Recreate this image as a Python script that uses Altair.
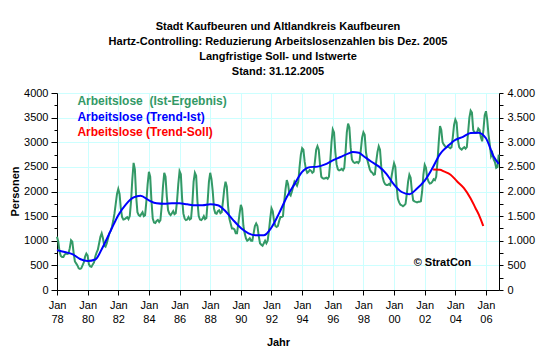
import altair as alt
import pandas as pd

FONT = "Liberation Sans"

# ---- Arbeitslose (Ist-Ergebnis), monthly values Jan..Dec per year ----
ist_1978 = [1080, 980, 780, 690, 670, 670, 720, 740, 730, 740, 850, 1010]
ist_1979 = [980, 760, 580, 540, 500, 440, 430, 440, 500, 560, 680, 740]
ist_1980 = [700, 520, 480, 470, 520, 560, 680, 760, 820, 950, 1080, 1150]
ist_1981 = [1050, 900, 880, 950, 1050, 1150, 1200, 1280, 1400, 1550, 1750, 1950]
ist_1982 = [2050, 1950, 1650, 1480, 1430, 1440, 1460, 1480, 1440, 1500, 1800, 2250]
ist_1983 = [2580, 2450, 1900, 1580, 1520, 1500, 1540, 1580, 1500, 1520, 1800, 2150]
ist_1984 = [2400, 2300, 1800, 1450, 1370, 1360, 1400, 1420, 1380, 1420, 1700, 2100]
ist_1985 = [2380, 2300, 1900, 1620, 1550, 1520, 1560, 1600, 1540, 1560, 1800, 2150]
ist_1986 = [2410, 2350, 1850, 1550, 1450, 1420, 1430, 1480, 1430, 1450, 1750, 2200]
ist_1987 = [2380, 2320, 1800, 1500, 1430, 1420, 1450, 1500, 1440, 1460, 1800, 2200]
ist_1988 = [2380, 2250, 2000, 1650, 1560, 1550, 1600, 1620, 1560, 1580, 1800, 2050]
ist_1989 = [2200, 2100, 1700, 1450, 1350, 1250, 1250, 1230, 1150, 1150, 1350, 1550]
ist_1990 = [1730, 1650, 1300, 1150, 1050, 1000, 1020, 1050, 1000, 1000, 1150, 1300]
ist_1991 = [1350, 1300, 1100, 950, 920, 900, 950, 1000, 950, 1000, 1200, 1450]
ist_1992 = [1660, 1600, 1400, 1300, 1280, 1300, 1400, 1480, 1480, 1500, 1800, 2050]
ist_1993 = [2230, 2150, 1950, 1920, 2000, 2100, 2200, 2160, 2120, 2200, 2500, 2750]
ist_1994 = [2880, 2850, 2600, 2450, 2380, 2400, 2440, 2420, 2380, 2400, 2600, 2850]
ist_1995 = [2920, 2850, 2550, 2300, 2270, 2260, 2270, 2280, 2260, 2300, 2600, 3000]
ist_1996 = [3260, 3200, 2800, 2550, 2450, 2430, 2440, 2460, 2430, 2480, 2800, 3200]
ist_1997 = [3380, 3300, 2900, 2650, 2600, 2580, 2590, 2600, 2580, 2620, 2850, 3100]
ist_1998 = [3200, 3150, 2800, 2650, 2550, 2450, 2400, 2380, 2340, 2350, 2600, 2800]
ist_1999 = [2920, 2850, 2500, 2300, 2200, 2150, 2130, 2130, 2150, 2130, 2300, 2450]
ist_2000 = [2575, 2500, 2100, 1850, 1780, 1730, 1720, 1700, 1720, 1750, 1950, 2200]
ist_2001 = [2340, 2280, 2000, 1820, 1800, 1790, 1780, 1790, 1790, 1800, 2000, 2350]
ist_2002 = [2540, 2480, 2280, 2200, 2160, 2170, 2200, 2250, 2230, 2300, 2600, 3000]
ist_2003 = [3330, 3250, 3000, 2950, 2920, 2900, 2920, 2900, 2880, 2900, 3100, 3350]
ist_2004 = [3460, 3400, 3050, 2900, 2870, 2850, 2880, 2900, 2870, 2900, 3200, 3500]
ist_2005 = [3640, 3600, 3250, 3200, 3190, 3200, 3280, 3250, 3100, 3020, 3250, 3550]
ist_2006 = [3630, 3450, 3150, 2950, 2720, 2780, 2650, 2600, 2480, 2500, 2750]

ist_years = list(range(1978, 2007))
ist_rows = [ist_1978, ist_1979, ist_1980, ist_1981, ist_1982, ist_1983, ist_1984,
            ist_1985, ist_1986, ist_1987, ist_1988, ist_1989, ist_1990, ist_1991,
            ist_1992, ist_1993, ist_1994, ist_1995, ist_1996, ist_1997, ist_1998,
            ist_1999, ist_2000, ist_2001, ist_2002, ist_2003, ist_2004, ist_2005,
            ist_2006]

# ---- Arbeitslose (Trend-Ist) ----
trend_t = [1978.0, 1978.5, 1979.0, 1979.5, 1980.0, 1980.5, 1981.0, 1981.5, 1982.0,
           1982.5, 1983.0, 1983.45, 1984.0, 1984.5, 1985.0, 1985.5, 1986.0, 1986.5,
           1987.0, 1987.5, 1988.0, 1988.5, 1989.0, 1989.5, 1990.0, 1990.5, 1991.0,
           1991.5, 1992.0, 1992.5, 1993.0, 1993.5, 1994.0, 1994.5, 1995.0, 1995.5,
           1996.0, 1996.5, 1997.0, 1997.3, 1997.7, 1998.0, 1998.5, 1999.0, 1999.5,
           2000.0, 2000.5, 2001.0, 2001.5, 2002.0, 2002.5, 2003.0, 2003.5, 2004.0,
           2004.5, 2005.0, 2005.5, 2006.0, 2006.5, 2006.83]
trend_v = [810, 770, 730, 630, 590, 620, 880, 1200, 1520,
           1740, 1880, 1915, 1820, 1760, 1750, 1760, 1760, 1740,
           1720, 1720, 1740, 1720, 1600, 1420, 1260, 1150, 1110,
           1110, 1270, 1560, 1890, 2150, 2400, 2495, 2505, 2550,
           2630, 2700, 2770, 2800, 2785, 2720, 2610, 2510, 2360,
           2140, 1990, 1945, 2060, 2220, 2470, 2760, 2920, 3050,
           3110, 3190, 3195, 3080, 2710, 2560]

# ---- Arbeitslose (Trend-Soll) ----
soll_t = [2002.55, 2003.0, 2003.25, 2003.69, 2004.12, 2004.56, 2004.99, 2005.32, 2005.54, 2005.82]
soll_v = [2445, 2440, 2408, 2341, 2204, 2069, 1865, 1661, 1524, 1300]

legend_labels = ["Arbeitslose \u00a0(Ist-Ergebnis)", "Arbeitslose (Trend-Ist)", "Arbeitslose (Trend-Soll)"]
legend_colors = ["#339966", "#0000FF", "#FF0000"]
legend_t = [1979.33, 1979.33, 1979.33]
legend_v = [3837, 3518, 3212]

copyright_label = ["© StratCon"]
copyright_t = [2003.16]
copyright_v = [545]

title_lines = ["Stadt Kaufbeuren und Altlandkreis Kaufbeuren",
               "Hartz-Controlling: Reduzierung Arbeitslosenzahlen bis Dez. 2005",
               "Langfristige Soll- und Istwerte",
               "Stand: 31.12.2005"]

x_ticks = list(range(1978, 2007, 2))
y_ticks = list(range(0, 4001, 250))

# ---- tables ----
ist_t, ist_v = [], []
for yr, row in zip(ist_years, ist_rows):
    for m, v in enumerate(row):
        ist_t.append(yr + m / 12.0)
        ist_v.append(v)
ist_df = pd.DataFrame({"t": ist_t, "v": ist_v})
trend_df = pd.DataFrame({"t": trend_t, "v": trend_v})
soll_df = pd.DataFrame({"t": soll_t, "v": soll_v})
legend_df = pd.DataFrame({"t": legend_t, "v": legend_v, "label": legend_labels, "color": legend_colors})
copy_df = pd.DataFrame({"t": copyright_t, "v": copyright_v, "label": copyright_label})

GRID = "#CCFFFF"
major = "datum.value % 500 === 0"

x_axis = alt.Axis(
    values=x_ticks,
    labelExpr="['Jan', slice(toString(datum.value), 2)]",
    labelFont=FONT, labelFontSize=11, labelColor="black", labelLineHeight=14,
    labelFlush=False, labelOverlap=False, labelPadding=4,
    tickSize=5, tickColor="black", domainColor="black",
    grid=True, gridColor=GRID, gridWidth=1,
    title="Jahr", titleFont=FONT, titleFontSize=11, titleFontWeight="bold",
    titleColor="black", titleX=221, titleY=52, titleBaseline="middle", titleAlign="center",
)
x_scale = alt.Scale(domain=[1978, 2006.85], nice=False, zero=False)
y_scale = alt.Scale(domain=[0, 4000], nice=False, zero=True)

x_enc = alt.X("t:Q", scale=x_scale, axis=x_axis)

left_axis = alt.Axis(
    orient="left", values=y_ticks,
    labelExpr="datum.value % 500 === 0 ? '' + datum.value : ''",
    labelFont=FONT, labelFontSize=11, labelColor="black", labelPadding=3,
    tickSize={"condition": {"test": major, "value": 6}, "value": 3},
    tickColor="black", domainColor="black",
    grid=True, gridColor=GRID, gridWidth=1,
    gridOpacity={"condition": {"test": major, "value": 1}, "value": 0},
    title="Personen", titleFont=FONT, titleFontSize=11, titleFontWeight="bold",
    titleColor="black", titleAngle=270, titleX=-42, titleY=98,
    titleAlign="center", titleBaseline="middle",
)
right_axis = alt.Axis(
    orient="right", values=y_ticks,
    labelExpr="datum.value % 500 === 0 ? replace(format(datum.value, ','), ',', '.') : ''",
    labelFont=FONT, labelFontSize=11, labelColor="black", labelPadding=4,
    tickSize=4, tickColor="black", domainColor="black",
    grid=False, title=None,
)

ist_layer = alt.Chart(ist_df).mark_line(color="#339966", strokeWidth=2).encode(
    x=x_enc, y=alt.Y("v:Q", scale=y_scale, axis=left_axis))
trend_layer = alt.Chart(trend_df).mark_line(color="#0000FF", strokeWidth=2, interpolate="monotone").encode(
    x=x_enc, y=alt.Y("v:Q", scale=y_scale, axis=right_axis))
soll_layer = alt.Chart(soll_df).mark_line(color="#FF0000", strokeWidth=2, interpolate="monotone").encode(
    x=x_enc, y=alt.Y("v:Q", scale=y_scale, axis=None))
legend_layer = alt.Chart(legend_df).mark_text(
    align="left", baseline="middle", font=FONT, fontSize=12, fontWeight="bold").encode(
    x=x_enc, y=alt.Y("v:Q", scale=y_scale, axis=None),
    text="label:N", color=alt.Color("color:N", scale=None))
copy_layer = alt.Chart(copy_df).mark_text(
    align="center", baseline="middle", font=FONT, fontSize=11, fontWeight="bold", color="black").encode(
    x=x_enc, y=alt.Y("v:Q", scale=y_scale, axis=None), text="label:N")

chart = alt.layer(ist_layer, trend_layer, soll_layer, legend_layer, copy_layer).resolve_scale(
    y="independent"
).properties(
    width=442, height=197,
    autosize=alt.AutoSizeParams(type="none"),
    padding={"left": 49, "top": 85, "right": 53, "bottom": 60},
    title=alt.TitleParams(text=title_lines, font=FONT, fontSize=11, fontWeight="bold",
                          color="black", lineHeight=15, anchor="middle", frame="group", offset=10),
).configure_view(fill="#C0C0C0", stroke="transparent").configure(background="white")

chart.save("out.html", embed_options={"renderer": "svg", "actions": False})
